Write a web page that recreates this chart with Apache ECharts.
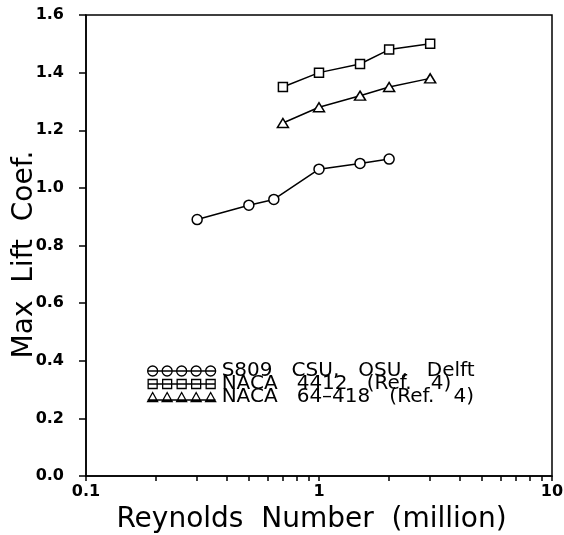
<!DOCTYPE html>
<html>
<head>
<meta charset="utf-8">
<script src="https://cdn.jsdelivr.net/npm/echarts@6/dist/echarts.min.js"></script>
<style>
html,body{margin:0;padding:0;background:#fff;}
#chart{width:564px;height:535px;}
</style>
</head>
<body>
<div id="chart"></div>
<script>
// Data
const seriesNames = ['S809   CSU,   OSU,   Delft', 'NACA   4412   (Ref.   4)', 'NACA   64\u2013418   (Ref.   4)'];
const reS809 = [0.3, 0.5, 0.64, 1.0, 1.5, 2.0];
const clS809 = [0.89, 0.94, 0.96, 1.065, 1.085, 1.10];
const re4412 = [0.7, 1.0, 1.5, 2.0, 3.0];
const cl4412 = [1.35, 1.40, 1.43, 1.48, 1.50];
const re64418 = [0.7, 1.0, 1.5, 2.0, 3.0];
const cl64418 = [1.225, 1.28, 1.32, 1.35, 1.38];
const xTickValues = [0.1, 0.2, 0.3, 0.4, 0.5, 0.6, 0.7, 0.8, 0.9, 1, 2, 3, 4, 5, 6, 7, 8, 9, 10];
const xLabelValues = [0.1, 1, 10];
const xTitle = 'Reynolds  Number  (million)';
const yTitle = 'Max  Lift  Coef.';

function zip(a, b) { return a.map((v, i) => [v, b[i]]); }

// legend icon paths (5 symbols joined by a line)
const cx = [5, 19.5, 34, 48.5, 63];
function circlesPath() {
  let p = 'M0 5 L68 5 ';
  cx.forEach(c => { p += 'M' + (c - 5) + ' 5 A5 5 0 1 0 ' + (c + 5) + ' 5 A5 5 0 1 0 ' + (c - 5) + ' 5 '; });
  return 'path://' + p;
}
function rectsPath() {
  let p = 'M0 5 L68 5 ';
  cx.forEach(c => { p += 'M' + (c - 4.5) + ' 0.5 L' + (c + 4.5) + ' 0.5 L' + (c + 4.5) + ' 9.5 L' + (c - 4.5) + ' 9.5 Z '; });
  return 'path://' + p;
}
function trisPath() {
  let p = 'M0 8 L68 8 ';
  cx.forEach(c => { p += 'M' + (c - 5) + ' 9.5 L' + c + ' 0.5 L' + (c + 5) + ' 9.5 Z '; });
  return 'path://' + p;
}

const chart = echarts.init(document.getElementById('chart'), null, {renderer: 'canvas'});
const axisFont = {fontFamily: 'DejaVu Sans', fontWeight: 'bold', fontSize: 16, color: '#000'};

chart.setOption({
  animation: false,
  backgroundColor: '#fff',
  grid: {left: 86, right: 12, top: 15, bottom: 59, containLabel: false, outerBoundsMode: 'none',
         show: true, borderColor: '#000', borderWidth: 1.5, backgroundColor: 'transparent'},
  xAxis: {
    type: 'log', logBase: 10, min: 0.1, max: 10,
    axisLine: {show: true, onZero: false, lineStyle: {color: '#000', width: 1.5}},
    axisTick: {show: true, inside: false, length: 5, customValues: xTickValues, lineStyle: {color: '#000', width: 1.5}},
    axisLabel: Object.assign({margin: 8, customValues: xLabelValues, formatter: v => String(v)}, axisFont),
    splitLine: {show: false},
    minorTick: {show: false},
    name: xTitle, nameLocation: 'middle', nameGap: 30, nameMoveOverlap: false,
    nameTextStyle: {fontFamily: 'DejaVu Sans', fontSize: 28, color: '#000', padding: [0, 15, 0, 0]}
  },
  yAxis: {
    type: 'value', min: 0, max: 1.6, interval: 0.2,
    axisLine: {show: true, onZero: false, lineStyle: {color: '#000', width: 1.5}},
    axisTick: {show: true, inside: false, length: 7, lineStyle: {color: '#000', width: 1.5}},
    axisLabel: Object.assign({margin: 22, formatter: v => v.toFixed(1)}, axisFont),
    splitLine: {show: false},
    name: yTitle, nameLocation: 'middle', nameGap: 47, nameMoveOverlap: false,
    nameTextStyle: {fontFamily: 'DejaVu Sans', fontSize: 28, color: '#000', padding: [0, 18, 0, 0]}
  },
  legend: {
    orient: 'vertical', left: 142, top: 356,
    itemWidth: 68, itemHeight: 10, itemGap: -7,
    textStyle: {fontFamily: 'DejaVu Sans', fontSize: 20, lineHeight: 13, color: '#000', padding: [0, 0, 0, 1]},
    itemStyle: {color: 'transparent', borderColor: '#000', borderWidth: 1.3},
    data: [
      {name: seriesNames[0], icon: circlesPath()},
      {name: seriesNames[1], icon: rectsPath()},
      {name: seriesNames[2], icon: trisPath()}
    ]
  },
  series: [
    {name: seriesNames[0], type: 'line', data: zip(reS809, clS809), symbol: 'circle', symbolSize: 10,
     itemStyle: {color: '#fff', borderColor: '#000', borderWidth: 1.5}, lineStyle: {color: '#000', width: 1.5}, color: '#000'},
    {name: seriesNames[1], type: 'line', data: zip(re4412, cl4412), symbol: 'rect', symbolSize: 9,
     itemStyle: {color: '#fff', borderColor: '#000', borderWidth: 1.5}, lineStyle: {color: '#000', width: 1.5}, color: '#000'},
    {name: seriesNames[2], type: 'line', data: zip(re64418, cl64418), symbol: 'triangle', symbolSize: [11, 9],
     itemStyle: {color: '#fff', borderColor: '#000', borderWidth: 1.5}, lineStyle: {color: '#000', width: 1.5}, color: '#000'}
  ]
});
</script>
</body>
</html>
